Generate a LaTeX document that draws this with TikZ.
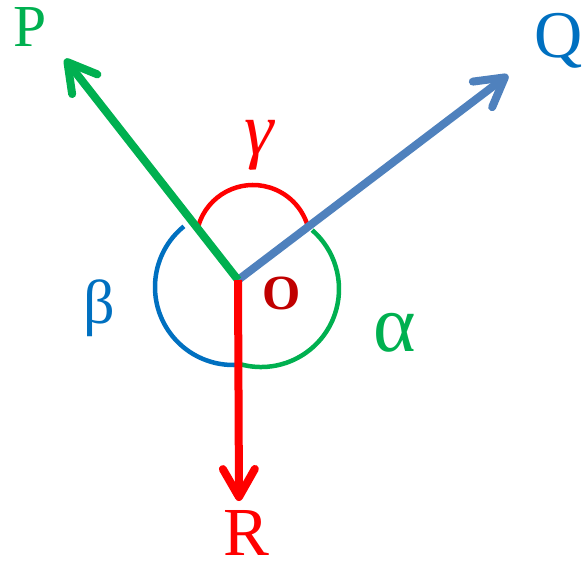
\documentclass[tikz,border=0pt]{standalone}
\usepackage{fontspec}
\usepackage{graphicx}
\setmainfont{Liberation Serif}
\usetikzlibrary{arrows.meta}
\definecolor{pgreen}{HTML}{00B050}
\definecolor{qblue}{HTML}{4F81BD}
\definecolor{dblue}{HTML}{0070C0}
\definecolor{rred}{HTML}{FF0000}
\definecolor{ored}{HTML}{C00000}
\newcommand{\fitto}[2]{\resizebox*{!}{#1}{#2}}
\begin{document}
\begin{tikzpicture}[x=1pt,y=1pt,yscale=-1,
  vec/.style={line width=8pt,-{Straight Barb[length=28pt,width=32pt,round]}},
  arcline/.style={line width=4.5pt},
  lbl/.style={inner sep=0pt,anchor=center}]
\useasboundingbox (0,0) rectangle (584,563);
% centres and ends
\coordinate (O) at (238,280);
\coordinate (Pt) at (65,59);
\coordinate (Qt) at (508,75);
\coordinate (Rt) at (239,501);
\coordinate (cb) at (233,287);
\coordinate (cg) at (261,289);
\coordinate (cr) at (253,242);
% arcs
\draw[arcline,dblue] (cb) ++(231:78pt) arc[start angle=231,end angle=86,radius=78pt];
\draw[arcline,pgreen] (cg) ++(105:78pt) arc[start angle=105,end angle=-49,radius=78pt];
\draw[arcline,rred] (cr) ++(197:57pt) arc[start angle=197,end angle=343,radius=57pt];
% vectors
\draw[vec,qblue] (O) -- (Qt);
\draw[vec,pgreen] (O) -- (Pt);
\draw[vec,rred] (O) -- (Rt);
% labels
\node[lbl,text=pgreen] (P) at (30,27) {\fitto{39pt}{P}};
\node[lbl,text=dblue] (Q) at (559,41) {\fitto{55pt}{Q}};
\node[lbl,text=rred] (R) at (246.5,533) {\fitto{45pt}{R}};
\node[lbl,text=ored] (Olbl) at (281.5,293.5) {\fitto{33pt}{\bfseries O}};
\node[lbl,text=rred] (g) at (259,145) {\fitto{50pt}{\itshape γ}};
\node[lbl,text=dblue] (b) at (99,308.5) {\fitto{57pt}{β}};
\node[lbl,text=pgreen] (a) at (395,332.5) {\fitto{39pt}{α}};
\end{tikzpicture}
\end{document}
